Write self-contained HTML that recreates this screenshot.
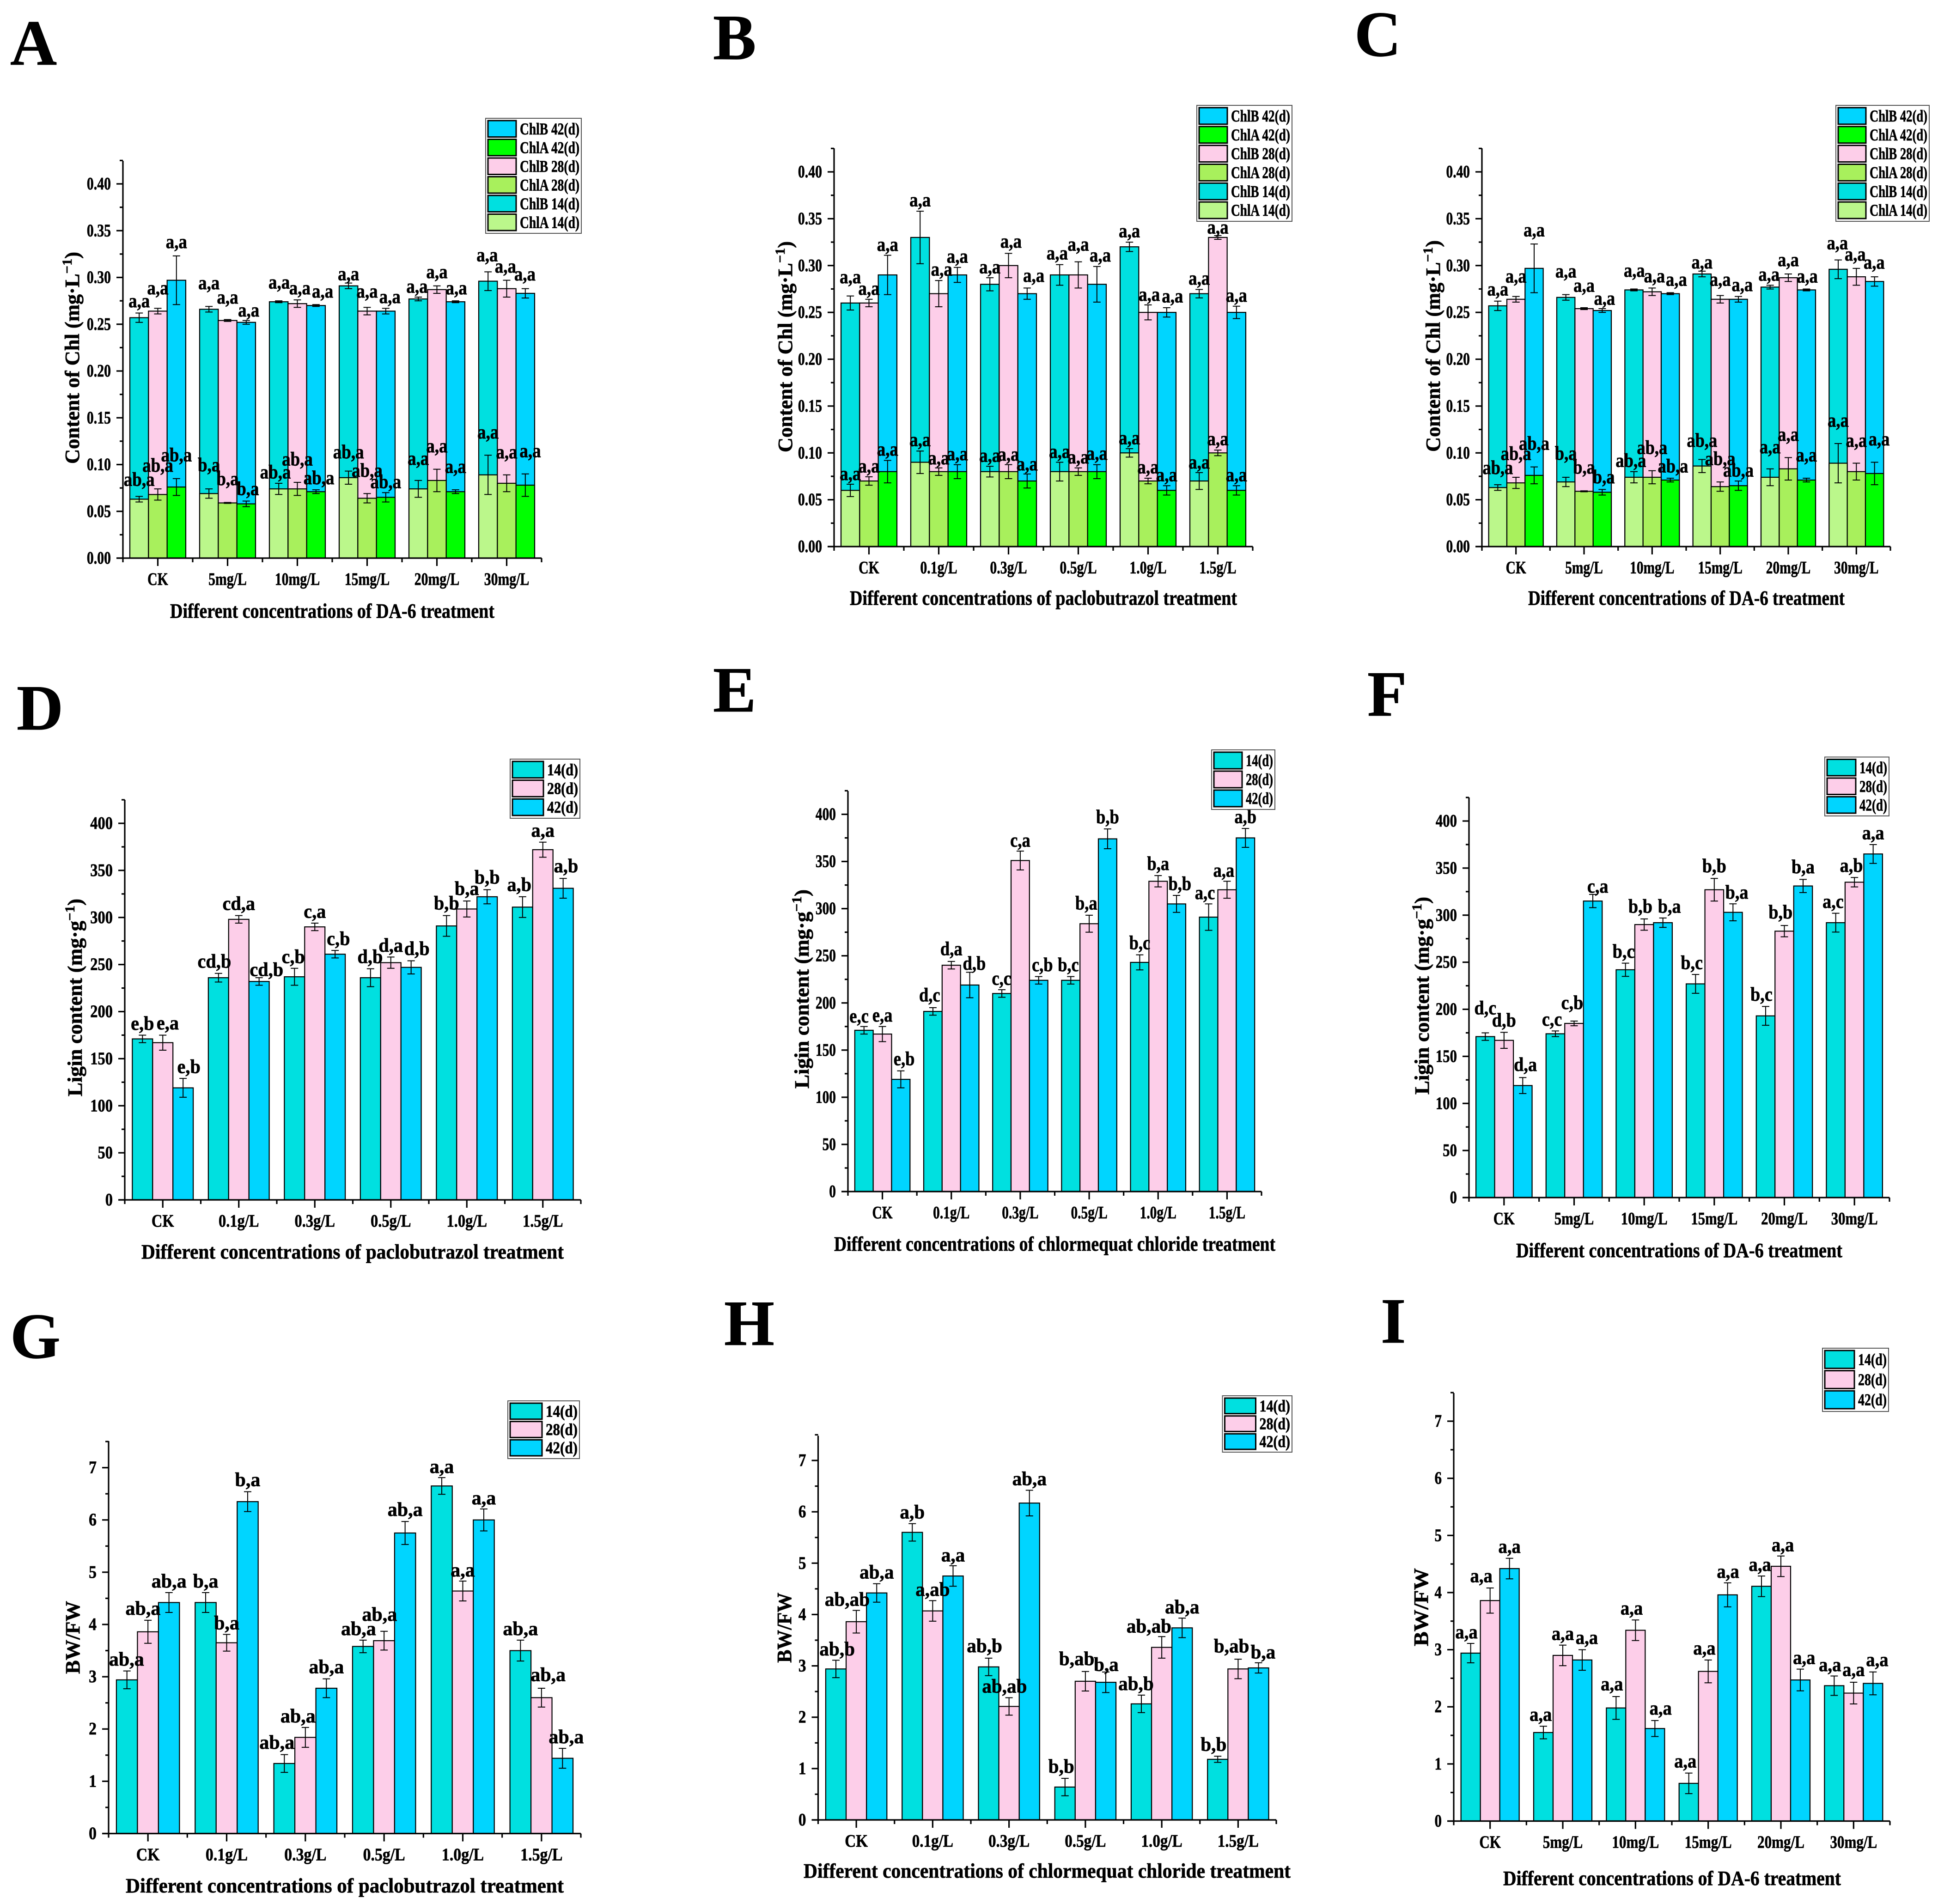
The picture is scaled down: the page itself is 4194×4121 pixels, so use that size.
<!DOCTYPE html>
<html lang="en">
<head>
<meta charset="utf-8">
<title>Chlorophyll, lignin and BW/FW under growth regulator treatments</title>
<style>
html,body{margin:0;padding:0;background:#fff;}
svg{display:block;}
text{font-family:"Liberation Serif","DejaVu Serif",serif;font-weight:bold;fill:#000;stroke:#000;stroke-width:0.7px;}
</style>
</head>
<body>
<svg id="figure" xmlns="http://www.w3.org/2000/svg" width="4194" height="4121" viewBox="0 0 4194 4121">
<rect x="0" y="0" width="4194" height="4121" fill="#ffffff"/>
</svg>
<script>
/* ---------- categories and axis ticks ---------- */
const catsDA6 = ['CK','5mg/L','10mg/L','15mg/L','20mg/L','30mg/L'];
const catsDose = ['CK','0.1g/L','0.3g/L','0.5g/L','1.0g/L','1.5g/L'];
const chlTicks = [0,0.05,0.10,0.15,0.20,0.25,0.30,0.35,0.40];
const chlTickLabels = ['0.00','0.05','0.10','0.15','0.20','0.25','0.30','0.35','0.40'];
const ligninTicks = [0,50,100,150,200,250,300,350,400];
const ligninTickLabels = ['0','50','100','150','200','250','300','350','400'];
const bwTicks = [0,1,2,3,4,5,6,7];
const bwTickLabels = ['0','1','2','3','4','5','6','7'];

/* ---------- panels A and C: chlorophyll, DA-6 ---------- */
const daChlB14 = [0.257,0.266,0.274,0.291,0.277,0.296];
const daChlB28 = [0.264,0.254,0.272,0.264,0.287,0.288];
const daChlB42 = [0.297,0.252,0.270,0.264,0.274,0.283];
const daChlB14Err = [0.005,0.003,0.001,0.003,0.002,0.010];
const daChlB28Err = [0.003,0.001,0.004,0.004,0.004,0.009];
const daChlB42Err = [0.026,0.002,0.001,0.003,0.001,0.005];
const daChlA14 = [0.063,0.069,0.074,0.086,0.074,0.089];
const daChlA28 = [0.068,0.059,0.074,0.064,0.083,0.080];
const daChlA42 = [0.076,0.058,0.071,0.065,0.071,0.078];
const daChlA14Err = [0.003,0.005,0.006,0.007,0.009,0.021];
const daChlA28Err = [0.006,0.0005,0.007,0.005,0.012,0.009];
const daChlA42Err = [0.009,0.003,0.002,0.005,0.002,0.012];
const daChlBLabels = ['a,a','a,a','a,a','a,a','a,a','a,a'];
const daChlALabels = ['ab,a','b,a','ab,a','ab,a','a,a','a,a'];

/* ---------- panel B: chlorophyll, paclobutrazol ---------- */
const pbChlB14 = [0.26,0.33,0.28,0.29,0.32,0.27];
const pbChlB28 = [0.26,0.27,0.30,0.29,0.25,0.33];
const pbChlB42 = [0.29,0.29,0.27,0.28,0.25,0.25];
const pbChlB14Err = [0.0075,0.028,0.007,0.011,0.005,0.0045];
const pbChlB28Err = [0.004,0.014,0.013,0.014,0.008,0.002];
const pbChlB42Err = [0.021,0.008,0.006,0.019,0.005,0.0066];
const pbChlA14 = [0.06,0.09,0.08,0.08,0.10,0.07];
const pbChlA28 = [0.07,0.08,0.08,0.08,0.07,0.10];
const pbChlA42 = [0.08,0.08,0.07,0.08,0.06,0.06];
const pbChlA14Err = [0.0066,0.012,0.0057,0.01,0.0045,0.009];
const pbChlA28Err = [0.0045,0.004,0.0075,0.004,0.003,0.003];
const pbChlA42Err = [0.012,0.0075,0.0075,0.0075,0.005,0.005];
const pbChlLabels = ['a,a','a,a','a,a','a,a','a,a','a,a'];

/* ---------- panel D: lignin, paclobutrazol ---------- */
const dLignin14 = [171,236,237,236,291,311];
const dLignin28 = [167,298,290,252,309,372];
const dLignin42 = [119,232,261,247,322,331];
const dLignin14Err = [4,4.6,9,9.5,11,11];
const dLignin28Err = [8,4,4,6,8.5,8];
const dLignin42Err = [10,4,4,7,7.5,10.5];
const dLabels14 = ['e,b','cd,b','c,b','d,b','b,b','a,b'];
const dLabels28 = ['e,a','cd,a','c,a','d,a','b,a','a,a'];
const dLabels42 = ['e,b','cd,b','c,b','d,b','b,b','a,b'];

/* ---------- panel E: lignin, chlormequat chloride ---------- */
const eLignin14 = [171,191,210,224,243,291];
const eLignin28 = [167,240,351,284,329,320];
const eLignin42 = [119,219,224,374,305,375];
const eLignin14Err = [4,4,4,4,8,14];
const eLignin28Err = [8,4,10,9,6,9];
const eLignin42Err = [9,13.5,4,10.5,9,10];
const eLabels14 = ['e,c','d,c','c,c','b,c','b,c','a,c'];
const eLabels28 = ['e,a','d,a','c,a','b,a','b,a','a,a'];
const eLabels42 = ['e,b','d,b','c,b','b,b','b,b','a,b'];

/* ---------- panel F: lignin, DA-6 ---------- */
const fLignin14 = [171,174,242,227,193,292];
const fLignin28 = [167,185,290,327,283,335];
const fLignin42 = [119,315,292,303,331,365];
const fLignin14Err = [4,3,7,10,10,10];
const fLignin28Err = [8.5,2.5,6,12,6,5];
const fLignin42Err = [8.5,7,5,9,7,10];
const fLabels14 = ['d,c','c,c','b,c','b,c','b,c','a,c'];
const fLabels28 = ['d,b','c,b','b,b','b,b','b,b','a,b'];
const fLabels42 = ['d,a','c,a','b,a','b,a','b,a','a,a'];

/* ---------- panel G: BW/FW, paclobutrazol ---------- */
const gRatio14 = [2.94,4.42,1.34,3.58,6.65,3.5];
const gRatio28 = [3.86,3.65,1.84,3.69,4.64,2.6];
const gRatio42 = [4.42,6.35,2.78,5.75,6.0,1.44];
const gRatio14Err = [0.17,0.19,0.17,0.12,0.16,0.2];
const gRatio28Err = [0.22,0.16,0.19,0.18,0.19,0.18];
const gRatio42Err = [0.19,0.19,0.18,0.22,0.21,0.19];
const gLabels = ['ab,a','b,a','ab,a','ab,a','a,a','ab,a'];

/* ---------- panel H: BW/FW, chlormequat chloride ---------- */
const hRatio14 = [2.94,5.6,2.98,0.64,2.26,1.18];
const hRatio28 = [3.86,4.07,2.21,2.7,3.36,2.94];
const hRatio42 = [4.42,4.75,6.17,2.68,3.74,2.96];
const hRatio14Err = [0.17,0.17,0.17,0.17,0.17,0.06];
const hRatio28Err = [0.22,0.2,0.17,0.19,0.21,0.19];
const hRatio42Err = [0.18,0.2,0.25,0.2,0.19,0.1];
const hLabels14 = ['ab,b','a,b','ab,b','b,b','ab,b','b,b'];
const hLabels28 = ['ab,ab','a,ab','ab,ab','b,ab','ab,ab','b,ab'];
const hLabels42 = ['ab,a','a,a','ab,a','b,a','ab,a','b,a'];

/* ---------- panel I: BW/FW, DA-6 ---------- */
const iRatio14 = [2.94,1.55,1.98,0.66,4.11,2.37];
const iRatio28 = [3.86,2.9,3.34,2.62,4.46,2.24];
const iRatio42 = [4.42,2.82,1.62,3.96,2.47,2.41];
const iRatio14Err = [0.17,0.11,0.2,0.18,0.18,0.17];
const iRatio28Err = [0.22,0.18,0.18,0.2,0.18,0.19];
const iRatio42Err = [0.18,0.18,0.14,0.21,0.19,0.2];
const iLabels = ['a,a','a,a','a,a','a,a','a,a','a,a'];

/* ---------- colours ---------- */
const colB14='#00E0E0', colB28='#FDCEE9', colB42='#00D5FF', colA14='#BBF78B', colA28='#A8F05C', colA42='#00FF00';

/* ---------- label offsets relative to each error-bar top (layout, read per group) ---------- */
const daBDx=[0,0,0,0,0,6,1,6,16,0,0,10,-3,0,2,-2,-3,-1];
const daBDy=[25,45,30,53,50,21,41,25,28,18,35,24,22,30,27,37,30,31];
const daADx=[0,0,0,0,0,4,-8,0,7,0,0,0,0,0,0,0,0,12];
const daADy=[37,53,53,54,53,26,23,52,25,42,52,22,49,52,52,52,51,52];
const pbBDx=[0,0,0,0,7,0,0,6,16,-6,0,8,0,3,14,0,0,0];
const pbBDy=[42,22,22,23,23,23,22,25,26,24,38,23,23,21,24,23,16,22];
const pbADx=[0,0,0,0,0,0,0,0,0,0,0,0,0,0,0,0,0,0];
const pbADy=[21,22,23,23,20,22,22,21,20,22,22,23,22,23,22,21,23,22];
const dDx=[0,12,14,-10,0,18,-3,0,8,-1,0,14,0,0,0,-8,0,7];
const dDy=[25,26,25,26,26,16,25,25,25,26,25,26,27,27,27,26,25,27];
const eDx=[-12,0,8,-8,0,11,-1,0,9,-6,-7,0,0,0,8,-9,-8,0];
const eDy=[22,24,26,27,27,18,24,23,25,25,26,26,26,26,25,24,23,25];
const fDx=[0,0,7,-9,-5,13,-5,-10,17,-10,0,10,-11,-10,0,-7,-8,0];
const fDy=[58,26,28,25,42,16,25,27,25,25,27,25,26,29,27,25,26,25];
const gDx=[-1,-12,0,0,0,0,-18,-18,0,-11,-11,0,0,0,0,0,16,9];
const gDy=[26,26,25,25,25,26,27,25,26,25,39,26,24,24,24,25,30,25];
const hDx=[3,-22,0,0,0,0,-10,-11,0,-9,-21,1,-13,-31,0,-10,-16,11];
const hDy=[24,24,25,25,24,23,27,25,25,26,28,15,25,22,24,26,29,23];
const iDx=[-11,-23,0,-7,0,12,-11,-10,15,-9,-10,1,-4,5,10,-11,0,11];
const iDy=[25,27,26,26,25,27,28,26,27,26,26,25,25,24,25,24,28,27];

/* ---------- series wiring ---------- */
const chlDaBack=[
 {key:'chlb-14d',fill:colB14,vals:daChlB14,errs:daChlB14Err,labs:daChlBLabels},
 {key:'chlb-28d',fill:colB28,vals:daChlB28,errs:daChlB28Err,labs:daChlBLabels},
 {key:'chlb-42d',fill:colB42,vals:daChlB42,errs:daChlB42Err,labs:daChlBLabels}];
const chlDaFront=[
 {key:'chla-14d',fill:colA14,vals:daChlA14,errs:daChlA14Err,labs:daChlALabels},
 {key:'chla-28d',fill:colA28,vals:daChlA28,errs:daChlA28Err,labs:daChlALabels},
 {key:'chla-42d',fill:colA42,vals:daChlA42,errs:daChlA42Err,labs:daChlALabels}];
const chlPbBack=[
 {key:'chlb-14d',fill:colB14,vals:pbChlB14,errs:pbChlB14Err,labs:pbChlLabels},
 {key:'chlb-28d',fill:colB28,vals:pbChlB28,errs:pbChlB28Err,labs:pbChlLabels},
 {key:'chlb-42d',fill:colB42,vals:pbChlB42,errs:pbChlB42Err,labs:pbChlLabels}];
const chlPbFront=[
 {key:'chla-14d',fill:colA14,vals:pbChlA14,errs:pbChlA14Err,labs:pbChlLabels},
 {key:'chla-28d',fill:colA28,vals:pbChlA28,errs:pbChlA28Err,labs:pbChlLabels},
 {key:'chla-42d',fill:colA42,vals:pbChlA42,errs:pbChlA42Err,labs:pbChlLabels}];
function tri(v14,e14,l14,v28,e28,l28,v42,e42,l42){
 return [{key:'14d',fill:colB14,vals:v14,errs:e14,labs:l14},
         {key:'28d',fill:colB28,vals:v28,errs:e28,labs:l28},
         {key:'42d',fill:colB42,vals:v42,errs:e42,labs:l42}];
}
const chlLegend=[['ChlB 42(d)',colB42],['ChlA 42(d)',colA42],['ChlB 28(d)',colB28],['ChlA 28(d)',colA28],['ChlB 14(d)',colB14],['ChlA 14(d)',colA14]];
const dayLegend=[['14(d)',colB14],['28(d)',colB28],['42(d)',colB42]];

const panels=[
 {id:'a',letter:'A',lx:22,ly:140,xL:266,xR:1172,y0:1208,yT:398,yAxisTop:348,tickVals:chlTicks,tickLabs:chlTickLabels,cats:catsDA6,
  sx:0.88,zx:1.12,zy:1.12,back:chlDaBack,bDx:daBDx,bDy:daBDy,front:chlDaFront,fDx:daADx,fDy:daADy,
  leg:chlLegend,box:[1051,256,1258,505],swatch:61,
  xt:'Different concentrations of DA-6 treatment',xtX:368,xtW:702,xtY:1337,
  yt:'chl',ytX:171,ytB:1004,ytT:545},
 {id:'b',letter:'B',lx:1543,ly:128,xL:1805,xR:2711,y0:1183,yT:372,yAxisTop:321,tickVals:chlTicks,tickLabs:chlTickLabels,cats:catsDose,
  sx:0.88,zx:1.12,zy:1.12,back:chlPbBack,bDx:pbBDx,bDy:pbBDy,front:chlPbFront,fDx:pbADx,fDy:pbADy,
  leg:chlLegend,box:[2590,228,2796,479],swatch:61,
  xt:'Different concentrations of paclobutrazol treatment',xtX:1839,xtW:838,xtY:1309,
  yt:'chl',ytX:1714,ytB:979,ytT:522},
 {id:'c',letter:'C',lx:2931,ly:121,xL:3207,xR:4091,y0:1183,yT:372,yAxisTop:321,tickVals:chlTicks,tickLabs:chlTickLabels,cats:catsDA6,
  sx:0.87,zx:1.212,zy:1.12,back:chlDaBack,bDx:daBDx,bDy:daBDy,front:chlDaFront,fDx:daADx,fDy:daADy,
  leg:chlLegend,box:[3973,228,4175,479],swatch:60,
  xt:'Different concentrations of DA-6 treatment',xtX:3307,xtW:685,xtY:1309,
  yt:'chl',ytX:3116,ytB:978,ytT:520},
 {id:'d',letter:'D',lx:36,ly:1579,xL:270,xR:1257,y0:2597,yT:1782,yAxisTop:1731,tickVals:ligninTicks,tickLabs:ligninTickLabels,cats:catsDose,
  sx:0.96,zx:1.12,zy:1.1615,back:tri(dLignin14,dLignin14Err,dLabels14,dLignin28,dLignin28Err,dLabels28,dLignin42,dLignin42Err,dLabels42),bDx:dDx,bDy:dDy,
  leg:dayLegend,box:[1104,1643,1255,1771],swatch:67,
  xt:'Different concentrations of paclobutrazol treatment',xtX:306,xtW:914,xtY:2724,
  yt:'lignin',ytX:177,ytB:2373,ytT:1945},
 {id:'e',letter:'E',lx:1543,ly:1540,xL:1835,xR:2730,y0:2579,yT:1762.5,yAxisTop:1712,tickVals:ligninTicks,tickLabs:ligninTickLabels,cats:catsDose,
  sx:0.87,zx:1.12,zy:1.1615,back:tri(eLignin14,eLignin14Err,eLabels14,eLignin28,eLignin28Err,eLabels28,eLignin42,eLignin42Err,eLabels42),bDx:eDx,bDy:eDy,
  leg:dayLegend,box:[2622,1623,2759,1752],swatch:61,
  xt:'Different concentrations of chlormequat chloride treatment',xtX:1805,xtW:955,xtY:2707,
  yt:'lignin',ytX:1750,ytB:2356,ytT:1925},
 {id:'f',letter:'F',lx:2959,ly:1549,xL:3179,xR:4089,y0:2592,yT:1777,yAxisTop:1726,tickVals:ligninTicks,tickLabs:ligninTickLabels,cats:catsDA6,
  sx:0.91,zx:1.212,zy:1.1615,back:tri(fLignin14,fLignin14Err,fLabels14,fLignin28,fLignin28Err,fLabels28,fLignin42,fLignin42Err,fLabels42),bDx:fDx,bDy:fDy,
  leg:dayLegend,box:[3949,1638.5,4088,1766],swatch:62,
  xt:'Different concentrations of DA-6 treatment',xtX:3281,xtW:706,xtY:2721,
  yt:'lignin',ytX:3092,ytB:2369,ytT:1941},
 {id:'g',letter:'G',lx:22,ly:2939,xL:235,xR:1257,y0:3968.5,yT:3176.6,yAxisTop:3119,tickVals:bwTicks,tickLabs:bwTickLabels,cats:catsDose,
  sx:1,zx:1.12,zy:1.187,back:tri(gRatio14,gRatio14Err,gLabels,gRatio28,gRatio28Err,gLabels,gRatio42,gRatio42Err,gLabels),bDx:gDx,bDy:gDy,
  leg:dayLegend,box:[1099,3032,1254,3157],swatch:69,
  xt:'Different concentrations of paclobutrazol treatment',xtX:272,xtW:948,xtY:4096,
  yt:'bw',ytX:172,ytB:3623,ytT:3465},
 {id:'h',letter:'H',lx:1567,ly:2911,xL:1770.5,xR:2762,y0:3939,yT:3161,yAxisTop:3107.5,tickVals:bwTicks,tickLabs:bwTickLabels,cats:catsDose,
  sx:0.98,zx:1.12,zy:1.187,back:tri(hRatio14,hRatio14Err,hLabels14,hRatio28,hRatio28Err,hLabels28,hRatio42,hRatio42Err,hLabels42),bDx:hDx,bDy:hDy,
  leg:dayLegend,box:[2645.5,3021,2796,3143],swatch:67,
  xt:'Different concentrations of chlormequat chloride treatment',xtX:1739,xtW:1054,xtY:4064,
  yt:'bw',ytX:1712,ytB:3599,ytT:3447},
 {id:'i',letter:'I',lx:2988,ly:2906,xL:3146,xR:4090,y0:3941.5,yT:3076,yAxisTop:3015,tickVals:bwTicks,tickLabs:bwTickLabels,cats:catsDA6,
  sx:0.92,zx:1.212,zy:1.187,back:tri(iRatio14,iRatio14Err,iLabels,iRatio28,iRatio28Err,iLabels,iRatio42,iRatio42Err,iLabels),bDx:iDx,bDy:iDy,
  leg:dayLegend,box:[3944,2918,4087,3055],swatch:64,
  xt:'Different concentrations of DA-6 treatment',xtX:3253,xtW:731,xtY:4080,
  yt:'bw',ytX:3090,ytB:3563,ytT:3394}
];

const NS='http://www.w3.org/2000/svg';
const root=document.getElementById('figure');
const TICK_FONT=38;
const TICK_SQUEEZE=0.89;
function mk(tag,attrs,parent){
 const el=document.createElementNS(NS,tag);
 for(const k in attrs){el.setAttribute(k,attrs[k]);}
 parent.appendChild(el);
 return el;
}
function slug(s){return String(s).toLowerCase().replace(/[^a-z0-9]+/g,'-').replace(/^-|-$/g,'');}
function scaledText(parent,x,y,str,size,sx,anchor){
 const t=mk('text',{transform:'translate('+x+','+y+') scale('+sx+',1)','font-size':size,'text-anchor':anchor},parent);
 t.textContent=str;
 return t;
}

function drawAxes(p,g,xScale,yScale,step){
 const axisY=mk('line',{x1:p.xL,x2:p.xL,y1:p.yAxisTop,y2:p.y0+1.5,stroke:'#000','stroke-width':3.2},g);
 
 
 const axisX=mk('line',{x1:p.xL-14,x2:p.xR,y1:p.y0,y2:p.y0,stroke:'#000','stroke-width':3.2},g);
 
 
 p.tickVals.forEach(function(v,i){
  const yy=yScale(v);
  const tick=mk('line',{x1:p.xL-14,x2:p.xL,y1:yy,y2:yy,stroke:'#000','stroke-width':3.2},g);
  
  
  const lab=scaledText(g,p.xL-26,yy+12,p.tickLabs[i],TICK_FONT,p.sx*TICK_SQUEEZE,'end');
  
  
  const nextV=i+1<p.tickVals.length?p.tickVals[i+1]:v+(v-p.tickVals[i-1]);
  const my=yScale((v+nextV)/2);
  const minor=mk('line',{x1:p.xL-7,x2:p.xL,y1:my,y2:my,stroke:'#000','stroke-width':3.2},g);
  
  
 });
 p.cats.forEach(function(c,i){
  const cx=xScale(i);
  const tick=mk('line',{x1:cx,x2:cx,y1:p.y0,y2:p.y0+17,stroke:'#000','stroke-width':3.2},g);
  
  
  const lab=scaledText(g,cx,p.y0+58,c,TICK_FONT,p.sx*TICK_SQUEEZE,'middle');
  
  
 });
 for(let i=0;i<=p.cats.length;i++){
  const mx=p.xL+i*step;
  const minor=mk('line',{x1:mx,x2:mx,y1:p.y0,y2:p.y0+9,stroke:'#000','stroke-width':3.2},g);
  
  
 }
}

function drawBars(p,g,seriesList,xScale,yScale,W){
 seriesList.forEach(function(s,k){
  s.vals.forEach(function(v,i){
   const x=xScale(i)+(k-1.5)*W, yy=yScale(v);
   const bar=mk('rect',{x:x,y:yy,width:W,height:p.y0-yy,fill:s.fill,stroke:'#000','stroke-width':2.2},g);
   
   
  });
 });
}

function drawErrorsAndLabels(p,g,seriesList,dxs,dys,xScale,yScale,W){
 seriesList.forEach(function(s,k){
  s.vals.forEach(function(v,i){
   const cx=xScale(i)+(k-1)*W;
   const hi=yScale(v+s.errs[i]), lo=yScale(v-s.errs[i]);
   const stem=mk('line',{x1:cx,x2:cx,y1:hi,y2:lo,stroke:'#000','stroke-width':2},g);
   
   
   const capTop=mk('line',{x1:cx-8,x2:cx+8,y1:hi,y2:hi,stroke:'#000','stroke-width':2},g);
   
   
   const capBot=mk('line',{x1:cx-8,x2:cx+8,y1:lo,y2:lo,stroke:'#000','stroke-width':2},g);
   
   
   const n=i*3+k;
   const lx=cx+dxs[n]/p.zx, ly=hi-dys[n]/p.zy+10;
   const lab=scaledText(g,lx,ly,s.labs[i],42,p.sx,'middle');
   
   
  });
 });
}

function drawLegend(p,g){
 const b=p.box, n=p.leg.length, pad=5;
 const frame=mk('rect',{x:b[0],y:b[1],width:b[2]-b[0],height:b[3]-b[1],fill:'#fff',stroke:'#555','stroke-width':2},g);
 
 
 const rowH=(b[3]-b[1]-2*pad+4)/n;
 p.leg.forEach(function(e,i){
  const ry=b[1]+pad+i*rowH;
  const sw=mk('rect',{x:b[0]+pad,y:ry,width:p.swatch,height:rowH-5,fill:e[1],stroke:'#000','stroke-width':3},g);
  
  
  const tx=b[0]+pad+p.swatch+8;
  const t=mk('text',{x:tx,y:ry+(rowH-5)/2+12,'font-size':36,textLength:b[2]-4-tx,lengthAdjust:'spacingAndGlyphs'},g);
  t.textContent=e[0];
  
  
 });
}

function drawTitles(p,g){
 const xt=mk('text',{x:p.xtX,y:p.xtY,'font-size':44,textLength:p.xtW,lengthAdjust:'spacingAndGlyphs'},g);
 xt.textContent=p.xt;
 
 
 const yt=mk('text',{transform:'translate('+p.ytX+','+p.ytB+') rotate(-90)','font-size':44,textLength:p.ytB-p.ytT,lengthAdjust:'spacingAndGlyphs'},g);
 
 
 if(p.yt==='bw'){
  yt.textContent='BW/FW';
 }else{
  const head=mk('tspan',{},yt);
  head.textContent=p.yt==='chl'?'Content of Chl (mg\u00B7L':'Ligin content (mg\u00B7g';
  const sup=mk('tspan',{dy:-16,'font-size':30},yt);
  sup.textContent='\u22121';
  const tail=mk('tspan',{dy:16},yt);
  tail.textContent=')';
 }
}

panels.forEach(function(p){
 const g=mk('g',{},root);
 
 
 const letter=mk('text',{x:p.lx,y:p.ly,'font-size':140},g);
 letter.textContent=p.letter;
 
 

 const step=(p.xR-p.xL)/p.cats.length;
 const W=step*0.267;
 const topTick=p.tickVals[p.tickVals.length-1];
 const xScale=function(i){return p.xL+(i+0.5)*step;};
 const yScale=function(v){return p.y0-v/topTick*(p.y0-p.yT);};

 drawBars(p,g,p.back,xScale,yScale,W);
 if(p.front){drawBars(p,g,p.front,xScale,yScale,W);}
 drawAxes(p,g,xScale,yScale,step);
 drawErrorsAndLabels(p,g,p.back,p.bDx,p.bDy,xScale,yScale,W);
 if(p.front){drawErrorsAndLabels(p,g,p.front,p.fDx,p.fDy,xScale,yScale,W);}
 drawLegend(p,g);
 drawTitles(p,g);
});
</script>
</body>
</html>
